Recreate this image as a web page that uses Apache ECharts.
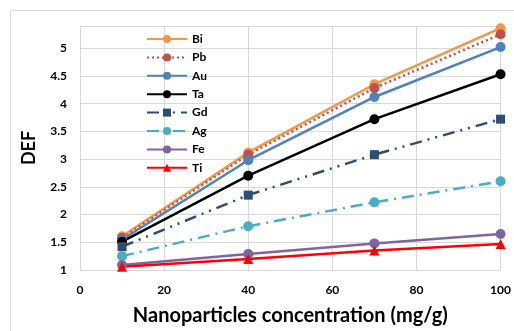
<!DOCTYPE html>
<html><head><meta charset="utf-8">
<script src="https://cdn.jsdelivr.net/npm/echarts@6/dist/echarts.min.js"></script>
<style>html,body{margin:0;padding:0;background:#fff}#c{width:514px;height:331px}</style>
</head><body><div id="c"></div>
<script>
const xValues = [10, 40, 70, 100];
const Bi = [1.61, 3.12, 4.35, 5.36];
const Pb = [1.58, 3.08, 4.28, 5.25];
const Au = [1.55, 2.98, 4.12, 5.02];
const Ta = [1.51, 2.70, 3.72, 4.53];
const Gd = [1.42, 2.35, 3.08, 3.72];
const Ag = [1.25, 1.79, 2.22, 2.60];
const Fe = [1.09, 1.29, 1.48, 1.65];
const Ti = [1.06, 1.20, 1.35, 1.47];
const xTicks = [0, 20, 40, 60, 80, 100];
const yTicks = [1, 1.5, 2, 2.5, 3, 3.5, 4, 4.5, 5];

const FONT = 'Lato';
function mk(name, data, color, type, symbol, size) {
  return {
    name, type: 'line', data: xValues.map((x, i) => [x, data[i]]),
    symbol, symbolSize: size,
    lineStyle: { color, width: 2.5, type },
    itemStyle: { color },
    emphasis: { disabled: true },
    z: 3
  };
}
const chart = echarts.init(document.getElementById('c'), null, { renderer: 'canvas' });
chart.setOption({
  animation: false,
  backgroundColor: '#fff',
  graphic: [{ type: 'rect', shape: { x: 10.5, y: 10.5, width: 700, height: 500 }, style: { fill: 'none', stroke: '#d9d9d9', lineWidth: 1 }, z: -10 }],
  grid: { left: 80, right: 13, top: 26, bottom: 60 },
  legend: {
    orient: 'vertical', left: 141, top: 28, itemWidth: 40, itemHeight: 10, itemGap: 6.4,
    textStyle: { fontFamily: FONT, fontWeight: 'bold', fontSize: 12, color: '#000' },
    data: ['Bi', 'Pb', 'Au', 'Ta', 'Gd', 'Ag', 'Fe', 'Ti']
  },
  xAxis: {
    type: 'value', min: 0, max: 100, interval: 20,
    name: 'Nanoparticles concentration (mg/g)', nameLocation: 'middle', nameGap: 36,
    nameTextStyle: { fontFamily: FONT, fontWeight: 'bold', fontSize: 20, color: '#000' },
    axisLine: { lineStyle: { color: '#d9d9d9' } }, axisTick: { show: false },
    axisLabel: { fontFamily: FONT, fontWeight: 'bold', fontSize: 12, color: '#000', margin: 14,
      formatter: v => xTicks.includes(v) ? String(v) : '' },
    splitLine: { lineStyle: { color: '#d9d9d9' } }
  },
  yAxis: {
    type: 'value', min: 1, max: 5.4, interval: 0.5,
    name: 'DEF', nameLocation: 'middle', nameGap: 42,
    nameTextStyle: { fontFamily: FONT, fontWeight: 'bold', fontSize: 18, color: '#000' },
    axisLine: { show: true, lineStyle: { color: '#d9d9d9' } }, axisTick: { show: false },
    axisLabel: { fontFamily: FONT, fontWeight: 'bold', fontSize: 12, color: '#000', margin: 13, showMaxLabel: false,
      formatter: v => yTicks.includes(v) ? String(v) : '' },
    splitLine: { lineStyle: { color: '#d9d9d9' } }
  },
  series: [
    mk('Bi', Bi, '#F79646', 'solid', 'circle', 10),
    mk('Pb', Pb, '#C0504D', [2, 3], 'circle', 10),
    mk('Au', Au, '#4F81BD', 'solid', 'circle', 10),
    mk('Ta', Ta, '#000000', 'solid', 'circle', 10),
    mk('Gd', Gd, '#2C4D75', [12, 6, 2, 6, 2, 6], 'rect', 9),
    mk('Ag', Ag, '#4BACC6', [12, 6, 2, 6], 'circle', 10),
    mk('Fe', Fe, '#8064A2', 'solid', 'circle', 10),
    mk('Ti', Ti, '#FF0000', 'solid', 'triangle', 10)
  ]
});
</script></body></html>
